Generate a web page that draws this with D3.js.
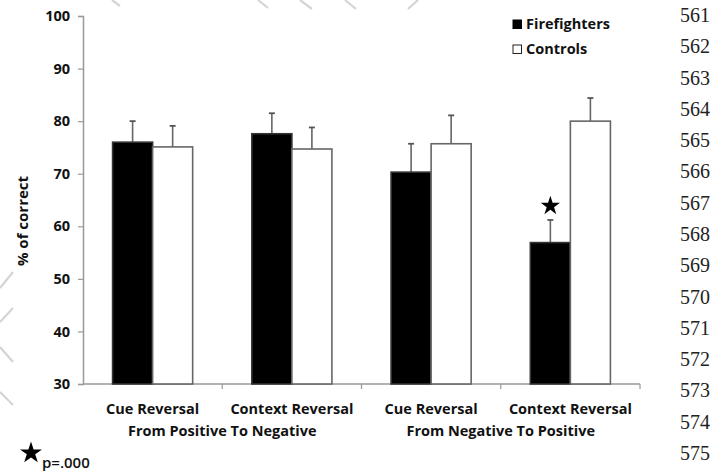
<!DOCTYPE html>
<html><head><meta charset="utf-8">
<script src="https://cdn.jsdelivr.net/npm/d3@7"></script>
<style>body{margin:0;background:#fff}svg{display:block}</style>
</head><body>
<svg id="c" width="724" height="472"></svg>
<script>
const categories = ["Cue Reversal", "Context Reversal", "Cue Reversal", "Context Reversal"];
const groupLabels = ["From Positive To Negative", "From Negative To Positive"];
const seriesNames = ["Firefighters", "Controls"];
const firefighters = [76.0, 77.6, 70.3, 56.9];
const controls = [75.1, 74.7, 75.7, 80.0];
const firefightersErr = [4.0, 3.9, 5.4, 4.3];
const controlsErr = [4.0, 4.1, 5.4, 4.4];
const yTicks = [30, 40, 50, 60, 70, 80, 90, 100];
const lineNumbers = [561,562,563,564,565,566,567,568,569,570,571,572,573,574,575];
const significant = [false, false, false, true];

const svg = d3.select("#c");
const font = "'Open Sans', sans-serif";
const M = {left: 83, right: 640, top: 16, bottom: 384};

// faint watermark strokes
const wm = [[258,0,268,8],[300,0,312,9],[345,0,356,9],[418,0,408,9],[112,0,120,6],
            [0,288,13,272],[0,322,13,308],[0,347,13,362],[0,392,13,405]];
svg.append("g").selectAll("line").data(wm).join("line")
  .attr("x1",d=>d[0]).attr("y1",d=>d[1]).attr("x2",d=>d[2]).attr("y2",d=>d[3])
  .attr("stroke","#d4d4d4").attr("stroke-width",2.2);

const x0 = d3.scaleBand().domain(d3.range(categories.length)).range([M.left, M.right]).paddingInner(0.425).paddingOuter(0.2125);
const x1 = d3.scaleBand().domain([0,1]).range([0, x0.bandwidth()]);
const y = d3.scaleLinear().domain([30, 100]).range([M.bottom, M.top]);

// y axis
const ya = svg.append("g").attr("transform", `translate(${M.left},0)`)
  .call(d3.axisLeft(y).tickValues(yTicks).tickSize(5).tickPadding(8));
ya.select(".domain").attr("stroke", "#999").attr("stroke-width", 1.5);
ya.selectAll(".tick line").attr("stroke", "#999").attr("stroke-width", 1.2);
ya.selectAll(".tick text").attr("font-family", font).attr("font-weight", 700)
  .attr("font-size", 14.5).attr("fill", "#111");

// x axis baseline and separator ticks
const band = d3.scaleLinear().domain([0, categories.length]).range([M.left, M.right]);
const xg = svg.append("g");
xg.append("line").attr("x1", M.left).attr("x2", M.right).attr("y1", y(30)).attr("y2", y(30))
  .attr("stroke", "#999").attr("stroke-width", 1.5);
xg.selectAll("line.sep").data(d3.range(1, categories.length + 1)).join("line").attr("class","sep")
  .attr("x1", d => band(d)).attr("x2", d => band(d)).attr("y1", y(30)).attr("y2", y(30) + 5)
  .attr("stroke", "#999").attr("stroke-width", 1.2);

// bars
const data = categories.map((c, i) => [
  {g: i, s: 0, v: firefighters[i], e: firefightersErr[i]},
  {g: i, s: 1, v: controls[i], e: controlsErr[i]}
]).flat();

const eb = svg.append("g");
eb.selectAll("line.err").data(data).join("line").attr("class","err")
  .attr("x1", d => x0(d.g) + x1(d.s) + x1.bandwidth()/2)
  .attr("x2", d => x0(d.g) + x1(d.s) + x1.bandwidth()/2)
  .attr("y1", d => y(d.v)).attr("y2", d => y(d.v + d.e))
  .attr("stroke", "#666").attr("stroke-width", 1.6);
eb.selectAll("line.cap").data(data).join("line").attr("class","cap")
  .attr("x1", d => x0(d.g) + x1(d.s) + x1.bandwidth()/2 - 3)
  .attr("x2", d => x0(d.g) + x1(d.s) + x1.bandwidth()/2 + 3)
  .attr("y1", d => y(d.v + d.e)).attr("y2", d => y(d.v + d.e))
  .attr("stroke", "#555").attr("stroke-width", 1.8);

svg.append("g").selectAll("rect").data(data).join("rect")
  .attr("x", d => x0(d.g) + x1(d.s)).attr("width", x1.bandwidth())
  .attr("y", d => y(d.v)).attr("height", d => y(30) - y(d.v))
  .attr("fill", d => d.s === 0 ? "#000" : "#fff")
  .attr("stroke", d => d.s === 0 ? "#333" : "#666").attr("stroke-width", 1.6);

// significance stars
svg.append("g").selectAll("path").data(data.filter(d => d.s === 0 && significant[d.g])).join("path")
  .attr("d", d3.symbol(d3.symbolStar, 115))
  .attr("transform", d => `translate(${x0(d.g) + x1(d.s) + x1.bandwidth()/2},${y(d.v + d.e) - 14})`)
  .attr("fill", "#000");

// x labels
svg.append("g").selectAll("text").data(categories).join("text")
  .attr("x", (d, i) => x0(i) + x0.bandwidth()/2).attr("y", 414)
  .attr("text-anchor", "middle").attr("font-family", font).attr("font-weight", 700)
  .attr("font-size", 14.5).attr("fill", "#111").text(d => d);
svg.append("g").selectAll("text").data(groupLabels).join("text")
  .attr("x", (d, i) => band(1 + 2*i)).attr("y", 436)
  .attr("text-anchor", "middle").attr("font-family", font).attr("font-weight", 700)
  .attr("font-size", 14.5).attr("fill", "#111").text(d => d);

// y label
svg.append("text").attr("transform", "translate(28,221) rotate(-90)")
  .attr("text-anchor", "middle").attr("font-family", font).attr("font-weight", 700)
  .attr("font-size", 15).attr("fill", "#111").text("% of correct");

// legend
const lg = svg.append("g");
seriesNames.forEach((n, i) => {
  lg.append("rect").attr("x", 513).attr("y", 20 + 25*i).attr("width", 8.5).attr("height", 8.5)
    .attr("fill", i === 0 ? "#000" : "#fff").attr("stroke", i === 0 ? "#000" : "#222").attr("stroke-width", 1);
  lg.append("text").attr("x", 526).attr("y", 29 + 25*i).attr("font-family", font).attr("font-weight", 700)
    .attr("font-size", 14.5).attr("fill", "#111").text(n);
});

// footnote
svg.append("path").attr("d", d3.symbol(d3.symbolStar, 150)).attr("transform", "translate(31,453)").attr("fill", "#000");
svg.append("text").attr("x", 42).attr("y", 468).attr("font-family", font).attr("font-weight", 600)
  .attr("font-size", 15).attr("fill", "#111").text("p=.000");

// line numbers
svg.append("g").selectAll("text").data(lineNumbers).join("text")
  .attr("x", 680).attr("y", (d, i) => 22 + i * (438/14))
  .attr("font-family", "'Liberation Serif', 'Times New Roman', serif").attr("font-size", 20)
  .attr("fill", "#222").text(d => d);
</script>
</body></html>
